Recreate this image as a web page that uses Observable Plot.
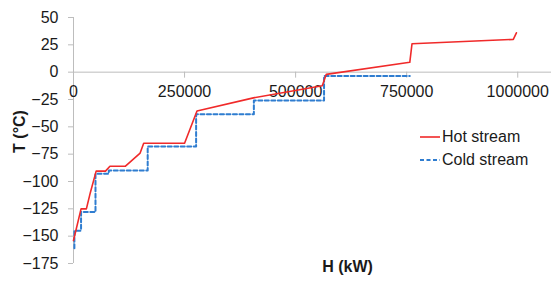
<!DOCTYPE html>
<html>
<head>
<meta charset="utf-8">
<script src="https://cdn.jsdelivr.net/npm/d3@7"></script>
<script src="https://cdn.jsdelivr.net/npm/@observablehq/plot@0.6"></script>
<style>
  body { margin: 0; background: #fff; }
  #wrap { position: relative; width: 551px; height: 283px; font-family: "Liberation Sans", Arial, sans-serif; }
  #legend { position: absolute; left: 420px; top: 126px; font-size: 16px; color: #1a1a1a; line-height: 22.5px; }
  #legend div { display: flex; align-items: center; white-space: nowrap; }
  #legend svg { margin-right: 2px; }
</style>
</head>
<body>
<div id="wrap"><div id="legend"></div></div>
<script>
// Hot stream composite curve
const hotH = [0, 17000, 29000, 38000, 51000, 72000, 82000, 117000, 150000, 158000, 250000, 278000, 405000, 560000, 569000, 757000, 762000, 990000, 997000];
const hotT = [-154, -125, -125, -110, -90.5, -90.5, -86, -86, -74, -65, -65, -35.5, -23.5, -12.5, -2, 9, 26, 30, 36];
// Cold stream composite curve (stepped)
const coldH = [2000, 2000, 17000, 17000, 49500, 49500, 79500, 79500, 167000, 167000, 276000, 276000, 406000, 406000, 564000, 564000, 757000];
const coldT = [-161, -145, -145, -128, -128, -93, -93, -90, -90, -68, -68, -38.5, -38.5, -26, -26, -3.5, -3.5];
// Axis ticks
const xTicks = [0, 250000, 500000, 750000, 1000000];
const yTicks = [50, 25, 0, -25, -50, -75, -100, -125, -150, -175];
const seriesNames = ["Hot stream", "Cold stream"];
const seriesColors = ["#f02a2a", "#2f7dd0"];

const hot = hotH.map((h, i) => ({H: h, T: hotT[i]}));
const cold = coldH.map((h, i) => ({H: h, T: coldT[i]}));

const axisColor = "#bdbdbd";
const chart = Plot.plot({
  width: 551,
  height: 283,
  marginLeft: 73,
  marginRight: 0,
  marginTop: 17,
  marginBottom: 20,
  style: {fontFamily: "'Liberation Sans', Arial, sans-serif", fontSize: "16px", color: "#1a1a1a", background: "white"},
  x: {domain: [0, 1076000]},
  y: {domain: [-175, 50]},
  marks: [
    Plot.axisY(yTicks, {tickSize: 5, tickPadding: 10, stroke: axisColor, fill: "#1a1a1a", fontSize: 16, label: null}),
    Plot.axisX([], {label: null}),
    Plot.ruleX([0], {stroke: axisColor, strokeWidth: 1}),
    Plot.ruleY([0], {stroke: axisColor, strokeWidth: 1}),
    Plot.ruleX(xTicks, {x: d => d, y1: 0, y2: 0, insetBottom: -6, stroke: axisColor}),
    Plot.text(xTicks, {x: d => d, y: 0, dy: 20, text: d => String(d), fontSize: 16, fill: "#1a1a1a"}),
    Plot.line(cold, {x: "H", y: "T", stroke: seriesColors[1], strokeWidth: 2, strokeDasharray: "4,2.5"}),
    Plot.line(hot, {x: "H", y: "T", stroke: seriesColors[0], strokeWidth: 1.6}),
    Plot.text(["H (kW)"], {x: () => 617000, frameAnchor: "bottom", dy: 8, fontWeight: "bold", fontSize: 16, fill: "#1a1a1a"}),
    Plot.text(["T (°C)"], {frameAnchor: "left", textAnchor: "middle", dx: -54, dy: -9, rotate: -90, fontWeight: "bold", fontSize: 16, fill: "#1a1a1a"})
  ]
});
const wrap = document.getElementById("wrap");
wrap.insertBefore(chart, wrap.firstChild);

const legend = document.getElementById("legend");
seriesNames.forEach((name, i) => {
  const row = document.createElement("div");
  const dash = i === 1 ? 'stroke-dasharray="4,2.5"' : "";
  const w = i === 1 ? 2 : 1.6;
  row.innerHTML = `<svg width="20" height="10"><line x1="0" x2="20" y1="5" y2="5" stroke="${seriesColors[i]}" stroke-width="${w}" ${dash}/></svg><span>${name}</span>`;
  legend.appendChild(row);
});
</script>
</body>
</html>
